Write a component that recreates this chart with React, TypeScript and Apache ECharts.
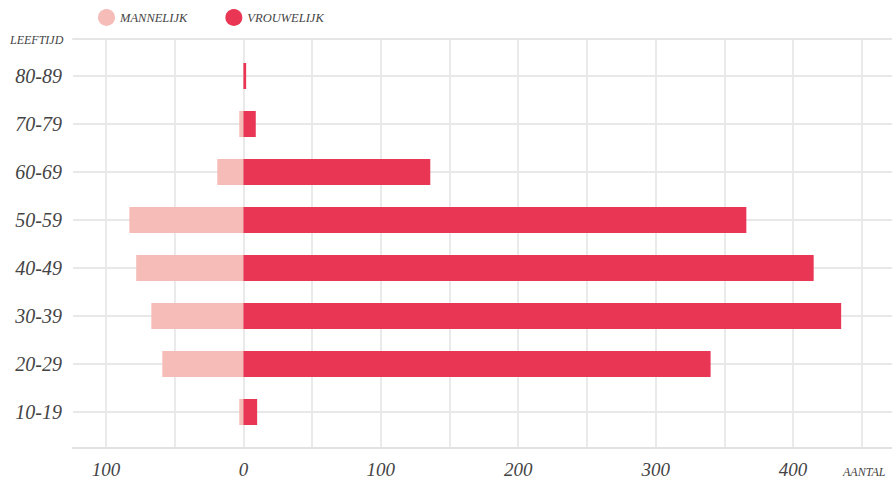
import { useEffect, useRef } from 'react';
import * as echarts from 'echarts';

const categories = ['10-19', '20-29', '30-39', '40-49', '50-59', '60-69', '70-79', '80-89'];
const mannelijk = [3, 59, 67, 78, 83, 19, 3, 0];
const vrouwelijk = [10, 340, 435, 415, 366, 136, 9, 2];
const gridTicks = [-100, -50, 0, 50, 100, 150, 200, 250, 300, 350, 400, 450];
const labelTicks = [-100, 0, 100, 200, 300, 400];
const legendNames = ['MANNELIJK', 'VROUWELIJK'];

const FONT = '"Liberation Serif", "DejaVu Serif", serif';
const TEXT = '#444444';

export default function App() {
  const ref = useRef<HTMLDivElement>(null);

  useEffect(() => {
    if (!ref.current) return;
    const chart = echarts.init(ref.current, null, { renderer: 'svg' });
    const xMin = -124;
    const xMax = 472;
    chart.setOption({
      animation: false,
      backgroundColor: '#ffffff',
      title: [
        {
          text: 'LEEFTIJD',
          left: 5,
          top: 29,
          textStyle: { fontFamily: FONT, fontStyle: 'italic', fontWeight: 'normal', fontSize: 12, color: TEXT },
        },
        {
          text: 'AANTAL',
          left: 838,
          top: 461,
          textStyle: { fontFamily: FONT, fontStyle: 'italic', fontWeight: 'normal', fontSize: 12, color: TEXT },
        },
      ],
      legend: {
        data: legendNames,
        icon: 'circle',
        itemWidth: 17,
        itemHeight: 17,
        itemGap: 38,
        left: 93,
        top: 4,
        textStyle: { fontFamily: FONT, fontStyle: 'italic', fontSize: 12.5, color: TEXT },
      },
      grid: [
        { left: 73, right: 0, top: 52, bottom: 43 },
        { left: 73, right: 0, top: 39, bottom: 30 },
      ],
      xAxis: [
        { gridIndex: 0, type: 'value', min: xMin, max: xMax, show: false },
        {
          gridIndex: 1,
          type: 'value',
          min: xMin,
          max: xMax,
          position: 'bottom',
          axisLine: { show: true, onZero: false, lineStyle: { color: '#e2e2e2', width: 2 } },
          axisTick: { show: false, customValues: gridTicks },
          splitLine: { show: true, lineStyle: { color: '#e3e3e3', width: 1.5 } },
          axisLabel: {
            customValues: labelTicks,
            formatter: (v: number) => String(Math.abs(v)),
            fontFamily: FONT,
            fontStyle: 'italic',
            fontSize: 19,
            color: TEXT,
            margin: 12,
          },
        },
        {
          gridIndex: 1,
          type: 'value',
          min: xMin,
          max: xMax,
          position: 'top',
          axisLine: { show: true, onZero: false, lineStyle: { color: '#e6e6e6', width: 2 } },
          axisTick: { show: false },
          axisLabel: { show: false },
          splitLine: { show: false },
        },
      ],
      yAxis: [
        {
          gridIndex: 0,
          type: 'category',
          data: categories,
          axisLine: { show: false },
          axisTick: { show: false },
          splitLine: { show: false },
          axisLabel: { fontFamily: FONT, fontStyle: 'italic', fontSize: 20, color: TEXT, margin: 11 },
        },
        { gridIndex: 1, type: 'value', min: 0, max: 1, show: false },
      ],
      series: [
        {
          type: 'line',
          name: 'lines',
          xAxisIndex: 0,
          yAxisIndex: 0,
          data: [],
          z: 1,
          markLine: {
            silent: true,
            z: 1,
            zlevel: 0,
            symbol: 'none',
            label: { show: false },
            lineStyle: { color: '#e8e8e8', width: 2, type: 'solid' },
            data: categories.map((c) => ({ yAxis: c })),
          },
        },
        {
          type: 'bar',
          name: legendNames[0],
          xAxisIndex: 0,
          yAxisIndex: 0,
          stack: 'total',
          barWidth: 26,
          z: 4,
          itemStyle: { color: '#f5bcb8' },
          data: mannelijk.map((v) => -v),
        },
        {
          type: 'bar',
          name: legendNames[1],
          xAxisIndex: 0,
          yAxisIndex: 0,
          stack: 'total',
          barWidth: 26,
          z: 4,
          itemStyle: { color: '#e93654' },
          data: vrouwelijk,
        },
      ],
    });
    return () => chart.dispose();
  }, []);

  return (
    <div
      ref={ref}
      style={{ position: 'fixed', left: 0, top: 0, width: 892, height: 479 }}
    />
  );
}
